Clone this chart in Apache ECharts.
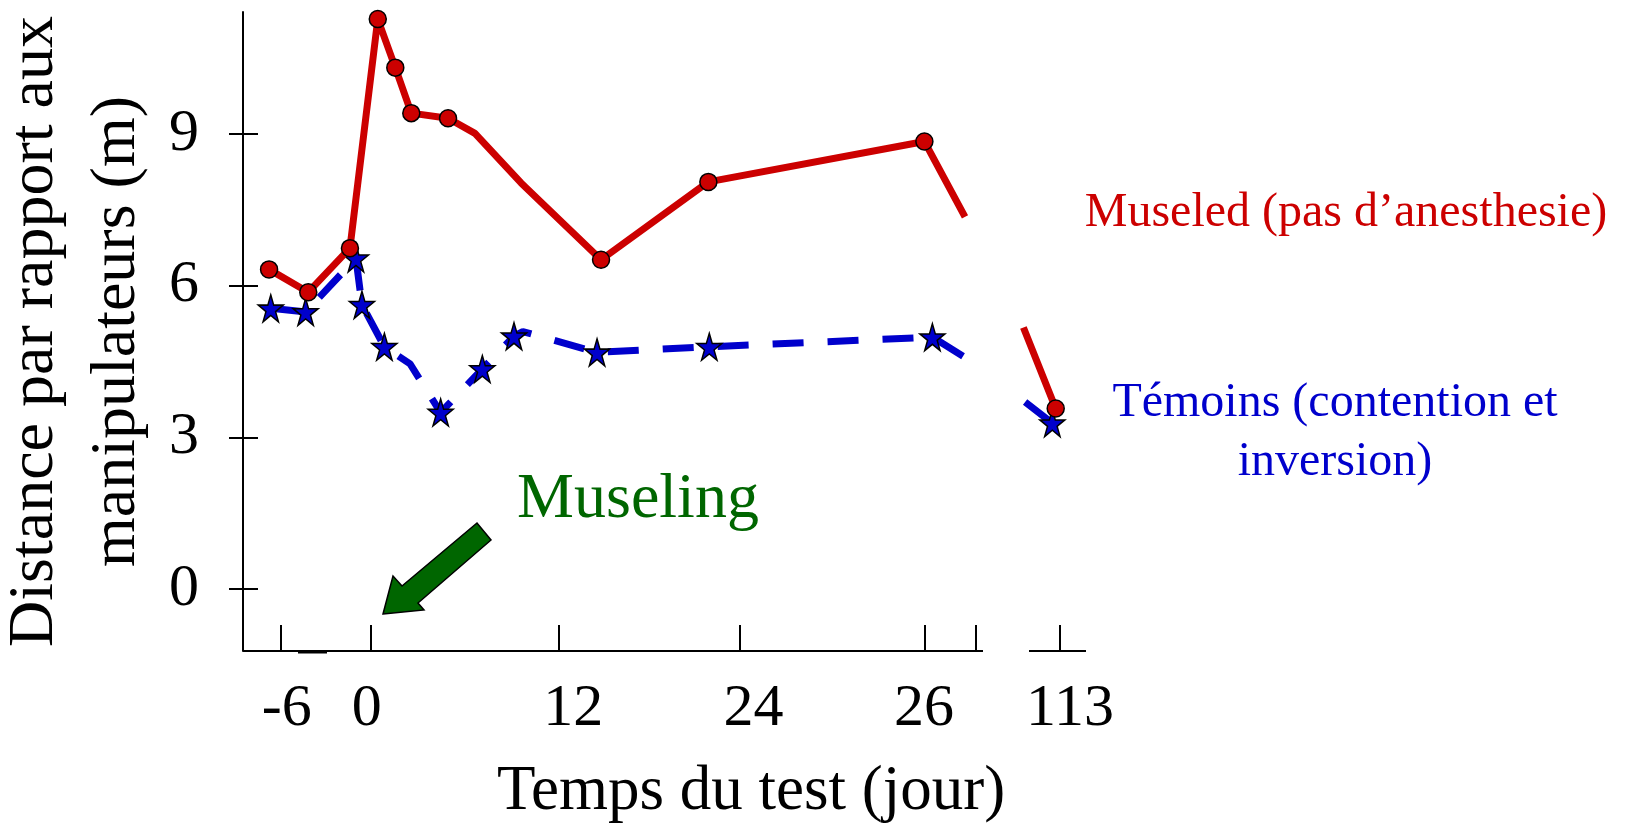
<!DOCTYPE html>
<html>
<head>
<meta charset="utf-8">
<script src="https://cdn.jsdelivr.net/npm/echarts@6/dist/echarts.min.js"></script>
<style>
  html, body { margin: 0; padding: 0; background: #fff; }
  #chart { width: 1625px; height: 826px; }
</style>
</head>
<body>
<div id="chart"></div>
<script>
// x axis is drawn broken, so x values are positions along the drawn axis (0 = day 0)
const xTickPos = [-5.85, 0, 12.18, 24, 36.03, 39.35, 44.81]
const xLabelPos = [-5.48, -0.28, 13.16, 24.87, 35.97, 45.46]
const xLabels = ['-6', '0', '12', '24', '26', '113']
const yTicks = [0, 3, 6, 9]

// Museled (pas d'anesthesie) - null marks the break in the line
const museledX = [-6.63, -4.08, -1.37, 0.44, 1.58, 2.62, 5.01, 6.76, 9.76, 14.96, 21.94, 35.99, 38.63, null, 42.43, 44.53]
const museledY = [6.32, 5.87, 6.74, 11.27, 10.31, 9.41, 9.31, 9.01, 8.03, 6.51, 8.05, 8.85, 7.36, null, 5.17, 3.57]
const museledBends = [7, 8, 12, 14] // line bends without a marker

// Témoins (contention et inversion)
const temoinsX = [-6.52, -4.25, -0.98, -0.59, 0.87, 2.54, 4.53, 7.24, 9.30, 9.87, 14.70, 22.0, 36.51, 38.74, null, 42.54, 44.31]
const temoinsY = [5.55, 5.48, 6.54, 5.62, 4.79, 4.45, 3.49, 4.35, 5.00, 5.09, 4.68, 4.79, 4.98, 4.56, null, 3.70, 3.28]
const temoinsBends = [5, 9, 13, 15]

const FONT = '"Liberation Serif", "Times New Roman", serif'
const STAR = 'path://M50,0L61.2,34.5L97.6,34.5L68.2,55.9L79.4,90.5L50,69.1L20.6,90.5L31.8,55.9L2.4,34.5L38.8,34.5Z'

const toData = (xs, ys, bends) => xs.map((x, i) => {
  if (x === null) return { value: ['-', '-'] }
  const item = { value: [x, ys[i]] }
  if (bends.includes(i)) item.symbol = 'none'
  return item
})

const chart = echarts.init(document.getElementById('chart'))

chart.setOption({
  animation: false,
  backgroundColor: '#fff',
  grid: { left: 243, top: 12, right: 539, bottom: 175, outerBoundsMode: 'none' },
  xAxis: {
    type: 'value',
    min: -8.325,
    max: 46.5,
    splitLine: { show: false },
    axisLine: { show: false, onZero: false },
    axisTick: {
      show: true,
      inside: true,
      length: 26,
      customValues: xTickPos,
      lineStyle: { color: '#000', width: 2 }
    },
    axisLabel: {
      customValues: xLabelPos,
      formatter: v => {
        const i = xLabelPos.findIndex(p => Math.abs(p - v) < 1e-6)
        return i >= 0 ? xLabels[i] : ''
      },
      margin: 27,
      color: '#000',
      fontFamily: FONT,
      fontSize: 60,
      lineHeight: 62
    }
  },
  yAxis: [
    {
      type: 'value',
      position: 'left',
      min: -1.226,
      max: 11.41,
      splitLine: { show: false },
      axisLine: { show: true, onZero: false, lineStyle: { color: '#000', width: 2 } },
      axisTick: {
        show: true,
        length: 14,
        customValues: yTicks,
        lineStyle: { color: '#000', width: 2 }
      },
      axisLabel: {
        customValues: yTicks,
        margin: 44,
        color: '#000',
        fontFamily: FONT,
        fontSize: 60
      },
      name: 'Distance par rapport aux\nmanipulateurs (m)',
      nameLocation: 'middle',
      nameRotate: 90,
      nameGap: 78,
      nameTextStyle: {
        color: '#000',
        fontFamily: FONT,
        fontSize: 64,
        lineHeight: 82
      }
    },
    {
      // second half of the crossing y ticks
      type: 'value',
      position: 'left',
      min: -1.226,
      max: 11.41,
      splitLine: { show: false },
      axisLine: { show: false, onZero: false },
      axisLabel: { show: false },
      axisTick: {
        show: true,
        inside: true,
        length: 15,
        customValues: yTicks,
        lineStyle: { color: '#000', width: 2 }
      }
    }
  ],
  series: [
    {
      name: 'Témoins (contention et inversion)',
      type: 'line',
      clip: false,
      connectNulls: false,
      data: toData(temoinsX, temoinsY, temoinsBends),
      symbol: STAR,
      symbolSize: [25, 27],
      lineStyle: { color: '#0000cc', width: 7, type: [31, 24], cap: 'butt' },
      itemStyle: { color: '#0000cc', borderColor: '#000', borderWidth: 1.5 },
      z: 2
    },
    {
      name: 'Museled (pas d’anesthesie)',
      type: 'line',
      clip: false,
      connectNulls: false,
      data: toData(museledX, museledY, museledBends),
      symbol: 'circle',
      symbolSize: 17,
      lineStyle: { color: '#cc0000', width: 7, cap: 'butt' },
      itemStyle: { color: '#cc0000', borderColor: '#000', borderWidth: 1.5 },
      z: 3
    }
  ],
  graphic: [
    // broken x axis line
    { type: 'line', shape: { x1: 243, y1: 651, x2: 983, y2: 651 }, style: { stroke: '#000', lineWidth: 2 } },
    { type: 'line', shape: { x1: 1029, y1: 651, x2: 1086, y2: 651 }, style: { stroke: '#000', lineWidth: 2 } },
    { type: 'line', shape: { x1: 298, y1: 652.5, x2: 327, y2: 652.5 }, style: { stroke: '#000', lineWidth: 2 } },
    {
      type: 'text', x: 751, y: 792,
      style: { text: 'Temps du test (jour)', fill: '#000', font: '63px ' + FONT, align: 'center', verticalAlign: 'middle' }
    },
    {
      type: 'text', x: 1346, y: 213,
      style: { text: 'Museled (pas d’anesthesie)', fill: '#cc0000', font: '48px ' + FONT, align: 'center', verticalAlign: 'middle' }
    },
    {
      type: 'text', x: 1335, y: 433,
      style: { text: 'Témoins (contention et\ninversion)', fill: '#0000cc', font: '48px ' + FONT, lineHeight: 59, align: 'center', verticalAlign: 'middle' }
    },
    {
      type: 'text', x: 638, y: 500,
      style: { text: 'Museling', fill: '#006600', font: '64px ' + FONT, align: 'center', verticalAlign: 'middle' }
    },
    {
      type: 'polygon',
      shape: { points: [[383, 614], [424, 610], [418, 603], [491, 540], [477, 523], [402, 586], [393, 576]] },
      style: { fill: '#006600', stroke: '#000', lineWidth: 1.5 }
    }
  ]
})
</script>
</body>
</html>
